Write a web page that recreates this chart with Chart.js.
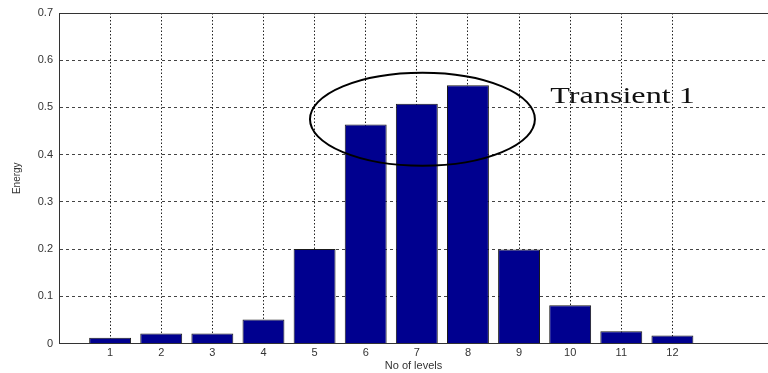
<!DOCTYPE html>
<html>
<head>
<meta charset="utf-8">
<script src="https://cdn.jsdelivr.net/npm/chart.js@4"></script>
<style>
    html, body { margin: 0; padding: 0; background: #fff; overflow: hidden; }
    #wrap { width: 768px; height: 373px; }
</style>
</head>
<body>
<div id="wrap"><canvas id="myChart" width="768" height="373"></canvas></div>
<script>
// du lieu doc tu hinh
const levels = [1, 2, 3, 4, 5, 6, 7, 8, 9, 10, 11, 12];
const energy = [0.012, 0.021, 0.021, 0.051, 0.2, 0.464, 0.508, 0.547, 0.199, 0.081, 0.026, 0.017];
const yTicks = [0, 0.1, 0.2, 0.3, 0.4, 0.5, 0.6, 0.7];
const noteText = 'Transient 1';
const notePos = [9.61, 0.51];           // (level, energy)
const ringCenter = [7.11, 0.475];       // (level, energy)
const ringRadius = [2.2, 0.0985];       // (levels, energy)

const points = levels.map((lv, i) => ({ x: lv, y: energy[i] }));

const annotate = {
    id: 'annotate',
    afterDatasetsDraw(chart) {
        const c = chart.ctx;
        const xs = chart.scales.x, ys = chart.scales.y;
        const a = chart.chartArea;
        c.save();
        // khung tren
        c.strokeStyle = '#333';
        c.lineWidth = 1;
        c.beginPath();
        c.moveTo(a.left, a.top + 0.5);
        c.lineTo(a.right, a.top + 0.5);
        c.stroke();
        // hinh elip
        const cx = xs.getPixelForValue(ringCenter[0]);
        const cy = ys.getPixelForValue(ringCenter[1]);
        const rx = xs.getPixelForValue(ringCenter[0] + ringRadius[0]) - cx;
        const ry = cy - ys.getPixelForValue(ringCenter[1] + ringRadius[1]);
        c.strokeStyle = '#000';
        c.lineWidth = 2;
        c.beginPath();
        c.ellipse(cx, cy, rx, ry, 0, 0, Math.PI * 2);
        c.stroke();
        // chu (hoi gian ngang nhu hinh goc)
        c.fillStyle = '#111';
        c.font = '23px "Liberation Serif", "DejaVu Serif", serif';
        c.textAlign = 'left';
        c.textBaseline = 'alphabetic';
        c.translate(xs.getPixelForValue(notePos[0]), ys.getPixelForValue(notePos[1]));
        c.scale(1.4, 1);
        c.fillText(noteText, 0, 0);
        c.restore();
    }
};

const ctx = document.getElementById('myChart').getContext('2d');

const myChart = new Chart(ctx, {
    type: 'bar',
    data: {
        datasets: [{
            label: 'Energy',
            data: points,
            backgroundColor: '#00008f',
            borderColor: '#1a1a1a',
            borderWidth: 1,
            barPercentage: 0.82,
            categoryPercentage: 1
        }]
    },
    options: {
        responsive: false,
        animation: false,
        layout: { padding: { top: 13, right: 0, left: 0, bottom: 0 } },
        plugins: {
            legend: { display: false },
            tooltip: { enabled: false }
        },
        scales: {
            x: {
                type: 'linear',
                min: 0,
                max: 13.87,
                offset: false,
                afterBuildTicks: (scale) => {
                    scale.ticks = levels.map(v => ({ value: v }));
                },
                afterFit: (scale) => { scale.height = 29.5; },
                grid: {
                    offset: false,
                    color: '#222',
                    lineWidth: 1,
                    drawTicks: false
                },
                border: { display: true, color: '#333', width: 1, dash: [1.5, 2] },
                ticks: {
                    padding: 3,
                    color: '#333',
                    font: { family: '"Liberation Sans", Arial, sans-serif', size: 11 },
                    maxRotation: 0,
                    callback: (v) => String(v)
                },
                title: {
                    display: true,
                    text: 'No of levels',
                    color: '#333',
                    font: { family: '"Liberation Sans", Arial, sans-serif', size: 11 },
                    padding: { top: 0, bottom: 0 }
                }
            },
            y: {
                min: 0,
                max: 0.7,
                afterBuildTicks: (scale) => {
                    scale.ticks = yTicks.map(v => ({ value: v }));
                },
                afterFit: (scale) => { scale.width = 59; },
                grid: {
                    color: (c) => (c.tick && (c.tick.value === 0 || c.tick.value === 0.7)) ? 'rgba(0,0,0,0)' : '#444',
                    lineWidth: 1,
                    drawTicks: false
                },
                border: { display: true, color: '#333', width: 1, dash: [3, 3] },
                ticks: {
                    padding: 6,
                    color: '#333',
                    font: { family: '"Liberation Sans", Arial, sans-serif', size: 11 },
                    callback: (v) => String(Math.round(v * 10) / 10)
                },
                title: {
                    display: true,
                    text: 'Energy',
                    color: '#333',
                    font: { family: '"Liberation Sans Narrow", "Liberation Sans", Arial, sans-serif', size: 10 },
                    padding: { top: 11, bottom: 0 }
                }
            }
        }
    },
    plugins: [annotate]
});
</script>
</body>
</html>
